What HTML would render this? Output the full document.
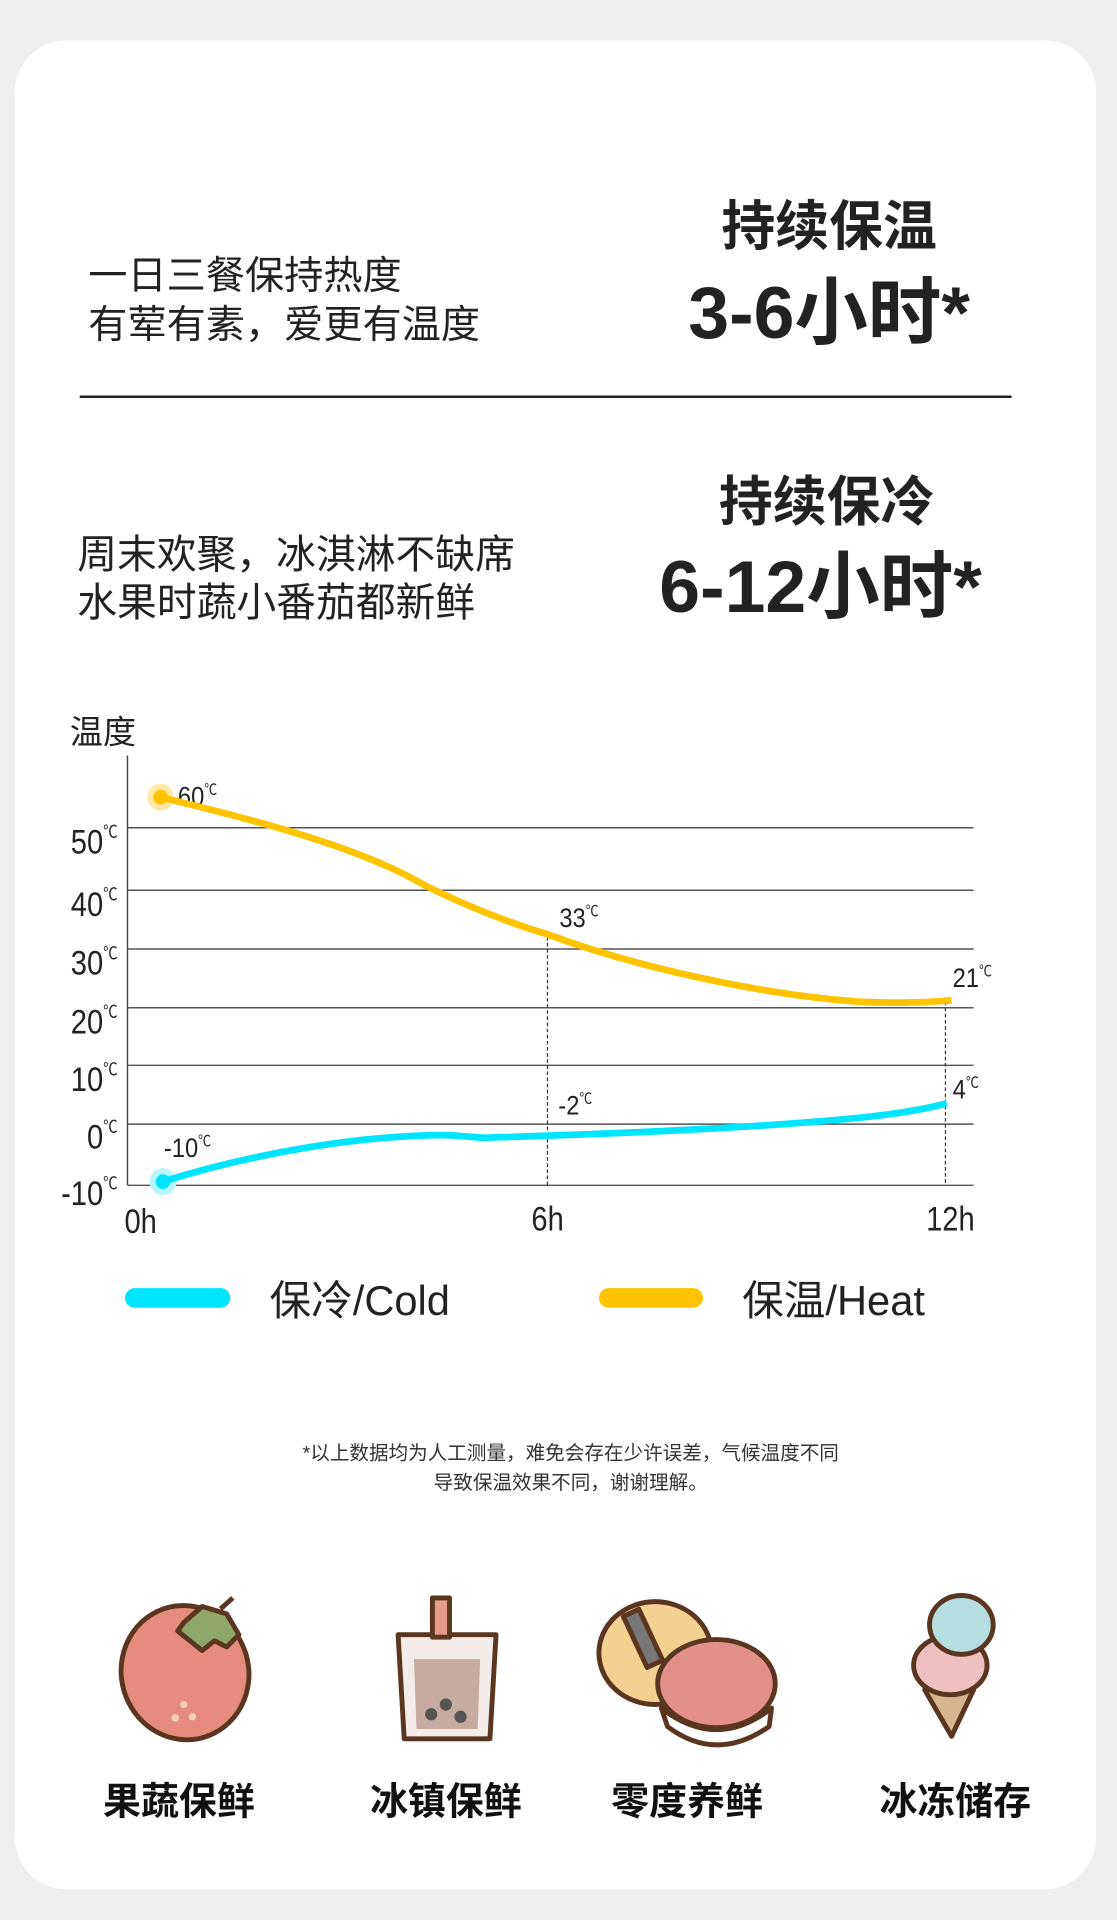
<!DOCTYPE html>
<html><head><meta charset="utf-8"><style>
html,body{margin:0;padding:0;background:#efefef;}
svg{display:block;}
text{font-family:"Liberation Sans","Noto Sans CJK SC",sans-serif;}
</style></head><body>
<svg width="1117" height="1920" viewBox="0 0 912 1568" xmlns="http://www.w3.org/2000/svg">
<rect x="0" y="0" width="912" height="1568" fill="#efefef"/>
<rect x="12" y="33" width="883" height="1510" rx="42" fill="#fff"/>
<g fill="#222">
<text x="72" y="236" font-size="32">一日三餐保持热度</text>
<text x="72" y="276" font-size="32">有荤有素，爱更有温度</text>
<text x="677" y="200" font-size="44" font-weight="bold" text-anchor="middle">持续保温</text>
<text x="677" y="276" font-size="60" font-weight="bold" text-anchor="middle">3-6小时*</text>
<text x="63" y="464" font-size="32.5">周末欢聚，冰淇淋不缺席</text>
<text x="63" y="503" font-size="32.5">水果时蔬小番茄都新鲜</text>
<text x="675" y="425" font-size="44" font-weight="bold" text-anchor="middle">持续保冷</text>
<text x="670" y="500" font-size="60" font-weight="bold" text-anchor="middle">6-12小时*</text>
</g>
<line x1="65" y1="324" x2="826" y2="324" stroke="#222" stroke-width="2"/>
<!-- chart -->
<text x="57" y="607" font-size="27" fill="#222">温度</text>
<line x1="104" y1="617" x2="104" y2="968" stroke="#444" stroke-width="1.2"/>
<g stroke="#555" stroke-width="1.2">
<line x1="104" y1="676" x2="795" y2="676"/>
<line x1="104" y1="727" x2="795" y2="727"/>
<line x1="104" y1="775" x2="795" y2="775"/>
<line x1="104" y1="823" x2="795" y2="823"/>
<line x1="104" y1="870" x2="795" y2="870"/>
<line x1="104" y1="918" x2="795" y2="918"/>
<line x1="104" y1="968" x2="795" y2="968"/>
</g>
<g stroke="#333" stroke-width="1" stroke-dasharray="3,2">
<line x1="447" y1="760" x2="447" y2="968"/>
<line x1="772" y1="818" x2="772" y2="968"/>
</g>
<g font-size="28" fill="#222" text-anchor="end" transform="scale(0.85,1)">
<text x="113" y="697">50<tspan font-size="14" dy="-13">℃</tspan></text>
<text x="113" y="748">40<tspan font-size="14" dy="-13">℃</tspan></text>
<text x="113" y="796">30<tspan font-size="14" dy="-13">℃</tspan></text>
<text x="113" y="844">20<tspan font-size="14" dy="-13">℃</tspan></text>
<text x="113" y="891">10<tspan font-size="14" dy="-13">℃</tspan></text>
<text x="113" y="938">0<tspan font-size="14" dy="-13">℃</tspan></text>
<text x="113" y="984">-10<tspan font-size="14" dy="-13">℃</tspan></text>
</g>
<g font-size="28" fill="#222" text-anchor="middle" transform="scale(0.85,1)">
<text x="135" y="1007">0h</text>
<text x="526" y="1005">6h</text>
<text x="913" y="1005">12h</text>
</g>
<g font-size="22" fill="#222" transform="scale(0.88,1)">
<text x="165" y="658">60<tspan font-size="12" dy="-9">℃</tspan></text>
<text x="519" y="757">33<tspan font-size="12" dy="-9">℃</tspan></text>
<text x="884" y="806">21<tspan font-size="12" dy="-9">℃</tspan></text>
<text x="518" y="910">-2<tspan font-size="12" dy="-9">℃</tspan></text>
<text x="884" y="897">4<tspan font-size="12" dy="-9">℃</tspan></text>
<text x="152" y="945">-10<tspan font-size="12" dy="-9">℃</tspan></text>
</g>
<circle cx="131" cy="651" r="11" fill="#ffe9a6"/>
<circle cx="133" cy="965" r="11" fill="#b8f6ff"/>
<path d="M131,651 C200,668 290,690 345,722 C380,740 420,755 447,763 C520,790 620,812 700,818 C740,820 760,818 777,817" fill="none" stroke="#FFC300" stroke-width="5.5" stroke-linecap="butt"/>
<path d="M133,965 C180,950 270,928 360,927 C380,927 390,930 400,929 C500,926 620,921 700,913 C730,910 755,906 773,901" fill="none" stroke="#00E5FF" stroke-width="5.5"/>
<circle cx="131" cy="651" r="6" fill="#FFC300"/>
<circle cx="133" cy="965" r="6" fill="#00E5FF"/>
<!-- legend -->
<line x1="110" y1="1060" x2="180" y2="1060" stroke="#00E5FF" stroke-width="16" stroke-linecap="round"/>
<line x1="497" y1="1060" x2="566" y2="1060" stroke="#FFC300" stroke-width="16" stroke-linecap="round"/>
<text x="220" y="1074" font-size="34" fill="#222">保冷/Cold</text>
<text x="606" y="1074" font-size="34" fill="#222">保温/Heat</text>
<g font-size="16" fill="#333" text-anchor="middle">
<text x="466" y="1192">*以上数据均为人工测量，难免会存在少许误差，气候温度不同</text>
<text x="466" y="1216">导致保温效果不同，谢谢理解。</text>
</g>
<!-- icons -->
<g stroke="#5a3520" stroke-width="4" stroke-linejoin="round">
<ellipse cx="151" cy="1366" rx="52" ry="55" fill="#e58c7c" transform="rotate(-15 151 1366)"/>
<path d="M150,1325 L165,1312 L185,1318 L195,1335 L185,1345 L175,1340 L165,1348 L155,1340 L145,1332 Z" fill="#8fa86a"/>
<path d="M180,1314 L190,1305" fill="none"/>
<circle cx="150" cy="1392" r="3" fill="#f6d0b0" stroke="none"/><circle cx="143" cy="1403" r="3" fill="#f6d0b0" stroke="none"/><circle cx="157" cy="1402" r="3" fill="#f6d0b0" stroke="none"/>
<path d="M325,1335 L405,1335 L400,1420 L330,1420 Z" fill="#f4ece8"/>
<rect x="353" y="1305" width="14" height="32" fill="#e59a8a"/>
<path d="M338,1355 L392,1355 L390,1412 L340,1412 Z" fill="#c7aaa0" stroke="none"/>
<circle cx="352" cy="1400" r="5" fill="#555" stroke="none"/><circle cx="364" cy="1392" r="5" fill="#555" stroke="none"/><circle cx="376" cy="1402" r="5" fill="#555" stroke="none"/>
<ellipse cx="535" cy="1350" rx="46" ry="42" fill="#f4d191"/>
<rect x="518" y="1315" width="14" height="46" fill="#777" transform="rotate(-25 525 1338)"/>
<ellipse cx="585" cy="1375" rx="48" ry="36" fill="#e29089"/>
<path d="M540,1395 Q585,1430 630,1395 L628,1410 Q585,1440 545,1410 Z" fill="#fff"/>
<path d="M755,1380 L795,1380 L777,1418 Z" fill="#d7b58e"/>
<ellipse cx="776" cy="1360" rx="30" ry="24" fill="#f0c0c0"/>
<ellipse cx="785" cy="1327" rx="26" ry="24" fill="#b6dee0"/>
</g>
<g font-size="31" font-weight="bold" fill="#111" text-anchor="middle">
<text x="146" y="1482">果蔬保鲜</text>
<text x="364" y="1482">冰镇保鲜</text>
<text x="561" y="1482">零度养鲜</text>
<text x="780" y="1482">冰冻储存</text>
</g>
</svg>
</body></html>
